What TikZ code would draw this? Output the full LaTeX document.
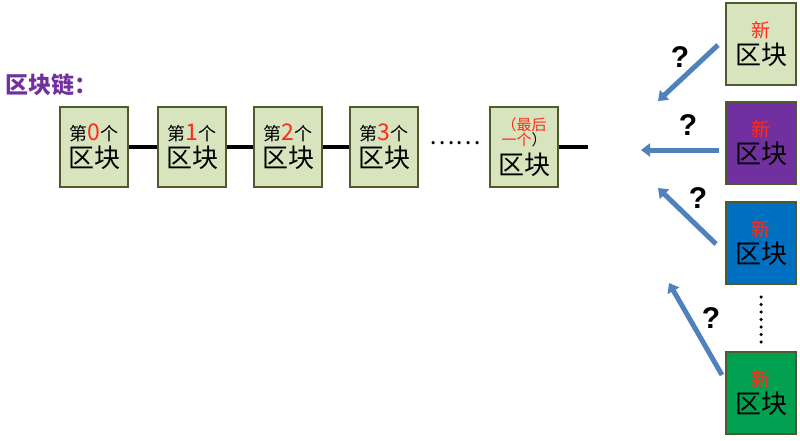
\documentclass[tikz,border=0pt]{standalone}
\usepackage{fontspec}
\setmainfont{Noto Sans CJK SC}
\newfontfamily\latinfont{Liberation Sans}
\usetikzlibrary{arrows.meta}
\definecolor{boxgreen}{HTML}{D7E4BD}
\definecolor{boxedge}{HTML}{4F5B2E}
\definecolor{newpurple}{HTML}{7030A0}
\definecolor{newblue}{HTML}{0070C0}
\definecolor{newgreen}{HTML}{00A050}
\definecolor{arrowblue}{HTML}{4F81BD}
\definecolor{numred}{HTML}{FF2A1A}
\tikzset{
    blockbox/.style={draw=boxedge, line width=1.6pt, fill=boxgreen, minimum width=68pt, minimum height=80pt, align=center, inner sep=0pt},
    newbox/.style={blockbox, minimum width=70pt, minimum height=82pt},
    chainlink/.style={line width=3.5pt},
    guessarrow/.style={draw=arrowblue, line width=5pt, -{Triangle[length=9pt,width=13pt]}},
    qmark/.style={font=\latinfont\fontsize{30}{30}\selectfont\bfseries}
}
\newcommand{\nth}[1]{{\fontsize{18}{20}\selectfont 第\textcolor{numred}{\fontsize{23}{20}\selectfont #1}个}\\[3pt]{\fontsize{26}{28}\selectfont 区块}}
\newcommand{\newblk}{{\fontsize{19}{20}\selectfont\textcolor{numred}{新}}\\[3pt]{\fontsize{26}{28}\selectfont 区块}}
\begin{document}
\begin{tikzpicture}[x=1pt,y=-1pt]
    \useasboundingbox (0,0) rectangle (800,440);
    % title
    \node[anchor=west, text=newpurple, font=\fontsize{23}{24}\selectfont\bfseries] (title) at (2,85) {区块链：};

    % the chain
    \foreach \n/\x in {0/94, 1/192, 2/288, 3/384} {
        \node[blockbox] (b\n) at (\x,147) {\nth{\n}};
    }
    \node[blockbox] (blast) at (524,147) {{\fontsize{15}{17}\selectfont\textcolor{numred}{（最后}}\\{\fontsize{15}{17}\selectfont\textcolor{numred}{一个}）}\\[5pt]{\fontsize{26}{28}\selectfont 区块}};
    \node[font=\fontsize{24}{24}\selectfont] (dots) at (455,143) {……};
    \coordinate (tail) at (588,147);
    \draw[chainlink] (b0) -- (b1);
    \draw[chainlink] (b1) -- (b2);
    \draw[chainlink] (b2) -- (b3);
    \draw[chainlink] (blast) -- (tail);

    % candidate new blocks
    \node[newbox] (n1) at (761,44) {\newblk};
    \node[newbox, fill=newpurple] (n2) at (761,143) {\newblk};
    \node[newbox, fill=newblue] (n3) at (761,243) {\newblk};
    \node[newbox, fill=newgreen] (n4) at (761,393) {\newblk};
    \draw[line width=3.5pt, dash pattern=on 0pt off 7.5pt, line cap=round] (761,297) -- (761,345);

    % arrows towards the chain
    \coordinate (t1) at (658,101);
    \coordinate (t2) at (641,150);
    \coordinate (t3) at (658,188);
    \coordinate (t4) at (669,283);
    \draw[guessarrow] (718,45) -- (t1);
    \draw[guessarrow] (719,150) -- (t2);
    \draw[guessarrow] (716,244) -- (t3);
    \draw[guessarrow] (722,375) -- (t4);
    \node[qmark] (q1) at (680,57) {?};
    \node[qmark] (q2) at (688,125) {?};
    \node[qmark] (q3) at (698,198) {?};
    \node[qmark] (q4) at (711,318) {?};
\end{tikzpicture}
\end{document}
